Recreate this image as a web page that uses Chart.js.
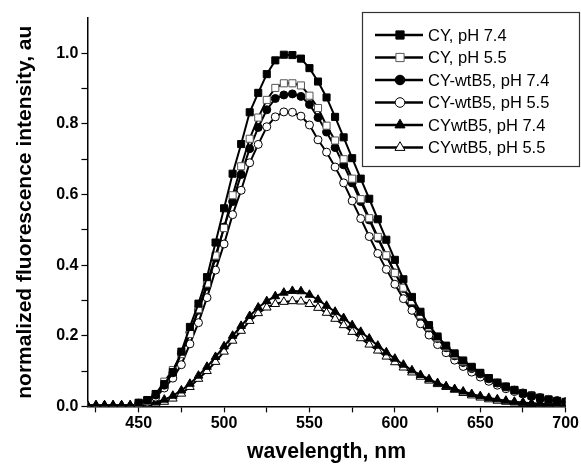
<!DOCTYPE html>
<html>
<head>
<meta charset="utf-8">
<script src="https://cdn.jsdelivr.net/npm/chart.js@4.4.1/dist/chart.umd.min.js"></script>
<style>
html, body { margin: 0; padding: 0; background: #fff; }
#wrap { width: 581px; height: 466px; }
</style>
</head>
<body>
<div id="wrap"><canvas id="chart" width="581" height="466"></canvas></div>
<script>
// emission wavelengths, nm
var wavelengths = [420,425,430,435,440,445,450,455,460,465,470,475,480,485,490,495,500,505,510,515,520,525,530,535,540,545,550,555,560,565,570,575,580,585,590,595,600,605,610,615,620,625,630,635,640,645,650,655,660,665,670,675,680,685,690,695,700];

// normalized intensities
var cy74 = [null,null,null,null,null,null,0.010,0.018,0.035,0.063,0.097,0.155,0.225,0.291,0.366,0.464,0.561,0.659,0.743,0.833,0.888,0.941,0.980,0.996,0.995,0.985,0.958,0.920,0.875,0.820,0.762,0.703,0.645,0.588,0.530,0.472,0.415,0.360,0.310,0.268,0.230,0.198,0.172,0.150,0.130,0.112,0.095,0.080,0.067,0.056,0.046,0.037,0.030,0.024,0.019,0.015,0.012];
var cy55 = [null,null,null,null,null,null,0.010,0.016,0.035,0.070,0.103,0.148,0.205,0.275,0.348,0.427,0.505,0.598,0.680,0.758,0.818,0.868,0.902,0.915,0.915,0.909,0.880,0.845,0.795,0.753,0.700,0.645,0.587,0.533,0.480,0.428,0.378,0.336,0.298,0.258,0.224,0.194,0.168,0.146,0.127,0.110,0.094,0.080,0.067,0.056,0.047,0.038,0.031,0.025,0.020,0.016,0.013];
var cyWt74 = [null,null,null,null,null,null,0.009,0.016,0.032,0.060,0.095,0.150,0.210,0.272,0.340,0.420,0.508,0.580,0.657,0.730,0.790,0.840,0.872,0.882,0.885,0.878,0.855,0.818,0.777,0.733,0.684,0.633,0.580,0.528,0.476,0.426,0.378,0.334,0.294,0.256,0.222,0.192,0.166,0.143,0.124,0.107,0.092,0.078,0.066,0.055,0.046,0.038,0.031,0.025,0.020,0.016,0.013];
var cyWt55 = [null,null,null,null,null,null,0.006,0.012,0.026,0.052,0.080,0.118,0.177,0.237,0.308,0.386,0.460,0.543,0.612,0.690,0.742,0.792,0.820,0.834,0.833,0.822,0.797,0.755,0.720,0.678,0.633,0.582,0.532,0.481,0.433,0.388,0.346,0.305,0.272,0.234,0.202,0.175,0.152,0.131,0.113,0.097,0.083,0.071,0.060,0.050,0.042,0.035,0.029,0.024,0.019,0.016,0.013];
var cywt74 = [0.003,0.003,0.003,0.003,0.003,0.003,0.005,0.008,0.012,0.019,0.030,0.045,0.064,0.087,0.112,0.140,0.170,0.200,0.228,0.256,0.280,0.298,0.312,0.322,0.327,0.326,0.316,0.302,0.285,0.268,0.250,0.230,0.211,0.192,0.172,0.153,0.135,0.118,0.102,0.089,0.077,0.066,0.057,0.049,0.042,0.035,0.029,0.024,0.020,0.016,0.013,0.011,0.009,0.008,0.007,0.006,0.005];
var cywt55 = [0.003,0.003,0.003,0.003,0.003,0.003,0.004,0.006,0.008,0.013,0.022,0.036,0.055,0.078,0.100,0.126,0.155,0.186,0.214,0.242,0.264,0.280,0.290,0.296,0.298,0.297,0.290,0.279,0.265,0.248,0.230,0.211,0.193,0.175,0.158,0.141,0.125,0.110,0.096,0.084,0.073,0.063,0.055,0.047,0.038,0.031,0.025,0.020,0.016,0.013,0.011,0.009,0.008,0.007,0.006,0.005,0.005];

var seriesLabels = ["CY, pH 7.4", "CY, pH 5.5", "CY-wtB5, pH 7.4", "CY-wtB5, pH 5.5", "CYwtB5, pH 7.4", "CYwtB5, pH 5.5"];

// axis ticks (minor ones get no label)
var xTicks = [425,450,475,500,525,550,575,600,625,650,675,700];
var yTicks = [0,0.1,0.2,0.3,0.4,0.5,0.6,0.7,0.8,0.9,1.0];

var FONT = "'Liberation Sans', Arial, Helvetica, sans-serif";

function pts(vals) {
	var out = [];
	for (var i = 0; i < wavelengths.length; i++) {
		if (vals[i] !== null) out.push({x: wavelengths[i], y: vals[i]});
	}
	return out;
}

function series(label, vals, style, fill, edge, r) {
	return {
		label: label,
		data: pts(vals),
		borderColor: "#000",
		borderWidth: 2,
		pointStyle: style,
		pointRadius: r,
		pointBackgroundColor: fill,
		pointBorderColor: edge,
		pointBorderWidth: 1,
		tension: 0,
		fill: false
	};
}

var datasets = [
	series(seriesLabels[0], cy74, "rect", "#000", "#000", 5),
	series(seriesLabels[1], cy55, "rect", "#fff", "#555", 5),
	series(seriesLabels[2], cyWt74, "circle", "#000", "#000", 4),
	series(seriesLabels[3], cyWt55, "circle", "#fff", "#000", 4),
	series(seriesLabels[4], cywt74, "triangle", "#000", "#000", 5),
	series(seriesLabels[5], cywt55, "triangle", "#fff", "#000", 5)
];

// boxed legend in the top right corner
var boxLegend = {
	id: "boxLegend",
	afterDraw: function(chart) {
		var ctx = chart.ctx;
		var bx = 362, by = 12, bw = 217, bh = 154;
		ctx.save();
		ctx.fillStyle = "#fff";
		ctx.fillRect(bx, by, bw, bh);
		ctx.strokeStyle = "#333";
		ctx.lineWidth = 1.2;
		ctx.strokeRect(bx + 0.5, by + 0.5, bw, bh);
		ctx.font = "16.5px " + FONT;
		ctx.textBaseline = "middle";
		chart.data.datasets.forEach(function(ds, i) {
			var y = 35 + i * 22.5;
			ctx.strokeStyle = "#000";
			ctx.lineWidth = 2.3;
			ctx.beginPath();
			ctx.moveTo(375, y);
			ctx.lineTo(423, y);
			ctx.stroke();
			ctx.fillStyle = ds.pointBackgroundColor;
			ctx.strokeStyle = ds.pointBorderColor;
			ctx.lineWidth = 1;
			Chart.helpers.drawPoint(ctx, {pointStyle: ds.pointStyle, radius: ds.pointRadius + 0.8, borderWidth: 1, rotation: 0}, 400, y);
			ctx.fillStyle = "#000";
			ctx.fillText(ds.label, 428, y + 1);
		});
		ctx.restore();
	}
};

new Chart(document.getElementById("chart"), {
	type: "line",
	data: {datasets: datasets},
	plugins: [boxLegend],
	options: {
		responsive: false,
		animation: false,
		devicePixelRatio: 1,
		layout: {padding: {left: 8, top: 18, right: 15, bottom: 0}},
		plugins: {legend: {display: false}, tooltip: {enabled: false}},
		scales: {
			x: {
				type: "linear",
				min: 420,
				max: 700,
				afterBuildTicks: function(axis) {
					axis.ticks = xTicks.map(function(v) { return {value: v}; });
				},
				ticks: {
					autoSkip: false,
					maxRotation: 0,
					padding: 2,
					color: "#000",
					font: {family: FONT, size: 16, weight: "bold"},
					callback: function(v) { return v % 50 === 0 ? String(v) : ""; }
				},
				grid: {drawOnChartArea: false, drawTicks: true, tickLength: 6, tickColor: "#000", tickWidth: 1.2},
				border: {display: true, color: "#000", width: 1.5},
				title: {display: true, text: "wavelength, nm", color: "#000", font: {family: FONT, size: 21.2, weight: "bold"}, padding: {top: 4, bottom: 1}}
			},
			y: {
				type: "linear",
				min: 0,
				max: 1.1,
				afterBuildTicks: function(axis) {
					axis.ticks = yTicks.map(function(v) { return {value: v}; });
				},
				ticks: {
					padding: 3,
					color: "#000",
					font: {family: FONT, size: 16, weight: "bold"},
					callback: function(v) { return Math.round(v * 10) % 2 === 0 ? v.toFixed(1) : ""; }
				},
				grid: {drawOnChartArea: false, drawTicks: true, tickLength: 6, tickColor: "#000", tickWidth: 1.2},
				border: {display: true, color: "#000", width: 1.5},
				title: {display: true, text: "normalized fluorescence intensity, au", color: "#000", font: {family: FONT, size: 21, weight: "bold"}, padding: {top: 5, bottom: 15}}
			}
		}
	}
});
</script>
</body>
</html>
